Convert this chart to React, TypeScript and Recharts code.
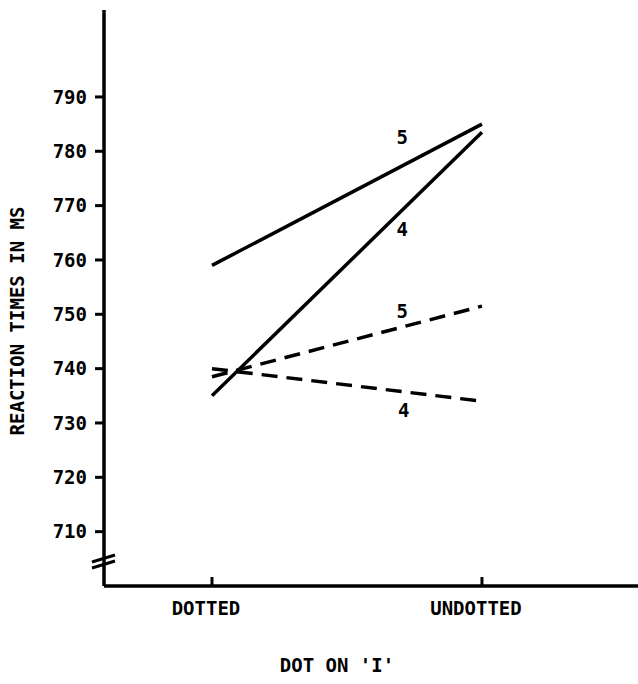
import React from 'react';
import { LineChart, Line, XAxis, YAxis, ReferenceDot } from 'recharts';

const categories = ['DOTTED', 'UNDOTTED'];
const solid5 = [759, 785];
const solid4 = [735, 783.5];
const dashed5 = [738.5, 751.5];
const dashed4 = [740, 734];
const yTicks = [710, 720, 730, 740, 750, 760, 770, 780, 790];
const lineLabels = [
  { text: '5', x: 0.705, y: 782.6 },
  { text: '4', x: 0.705, y: 765.6 },
  { text: '5', x: 0.705, y: 750.6 },
  { text: '4', x: 0.71, y: 732.4 },
];

const data = categories.map((c, i) => ({
  x: i,
  cat: c,
  s5: solid5[i],
  s4: solid4[i],
  d5: dashed5[i],
  d4: dashed4[i],
}));

const FONT = '"DejaVu Sans Mono", monospace';

const XTick = (props: any) => {
  const { x, y, payload } = props;
  return (
    <g>
      <line x1={x} x2={x} y1={y - 9} y2={y} stroke="#000" strokeWidth={3} />
      <text x={x - 6} y={y + 29} textAnchor="middle" fontFamily={FONT} fontWeight="bold" fontSize={19} fill="#000">
        {categories[payload.value]}
      </text>
    </g>
  );
};

const YLabel = (props: any) => {
  const vb = props.viewBox || { x: 44, y: 10, width: 60, height: 576 };
  const axisX = vb.x + vb.width;
  const bottom = vb.y + vb.height;
  const cx = vb.x - 27;
  const cy = vb.y + vb.height / 2 + 23;
  return (
    <g>
      <text
        x={cx}
        y={cy}
        transform={`rotate(-90 ${cx} ${cy})`}
        textAnchor="middle"
        dominantBaseline="central"
        fontFamily={FONT}
        fontWeight="bold"
        fontSize={19}
        fill="#000"
      >
        REACTION TIMES IN MS
      </text>
      <line x1={axisX - 12} y1={bottom - 24} x2={axisX + 11} y2={bottom - 31} stroke="#000" strokeWidth={3} />
      <line x1={axisX - 12} y1={bottom - 18} x2={axisX + 11} y2={bottom - 25} stroke="#000" strokeWidth={3} />
    </g>
  );
};

const XLabel = (props: any) => {
  const vb = props.viewBox || { x: 104, y: 586, width: 534, height: 30 };
  return (
    <text
      x={vb.x + 233}
      y={vb.y + 86}
      textAnchor="middle"
      fontFamily={FONT}
      fontWeight="bold"
      fontSize={19}
      fill="#000"
    >
      DOT ON 'I'
    </text>
  );
};

export default function App() {
  return (
    <div style={{ position: 'absolute', left: 0, top: 0, background: '#fff' }}>
      <LineChart
        width={638}
        height={684}
        data={data}
        margin={{ top: 10, right: 0, bottom: 68, left: 44 }}
      >
        <XAxis
          dataKey="x"
          type="number"
          domain={[-0.4, 1.578]}
          ticks={[0, 1]}
          allowDataOverflow
          height={30}
          tickSize={0}
          tickMargin={0}
          tickLine={false}
          axisLine={{ stroke: '#000', strokeWidth: 3.5 }}
          tick={<XTick />}
          label={<XLabel />}
        />
        <YAxis
          type="number"
          domain={[700, 806]}
          ticks={yTicks}
          allowDataOverflow
          width={60}
          tickSize={9}
          tickMargin={8}
          tickLine={{ stroke: '#000', strokeWidth: 3 }}
          axisLine={{ stroke: '#000', strokeWidth: 3.5 }}
          tick={{ fill: '#000', fontFamily: FONT, fontWeight: 'bold', fontSize: 19 }}
          label={<YLabel />}
        />
        <Line dataKey="s5" stroke="#000" strokeWidth={3.5} dot={false} isAnimationActive={false} />
        <Line dataKey="s4" stroke="#000" strokeWidth={3.5} dot={false} isAnimationActive={false} />
        <Line dataKey="d5" stroke="#000" strokeWidth={3.5} strokeDasharray="16 9" dot={false} isAnimationActive={false} />
        <Line dataKey="d4" stroke="#000" strokeWidth={3.5} strokeDasharray="16 9" dot={false} isAnimationActive={false} />
        {lineLabels.map((l, i) => (
          <ReferenceDot
            key={i}
            x={l.x}
            y={l.y}
            r={0}
            fill="none"
            stroke="none"
            ifOverflow="visible"
            label={{ value: l.text, position: 'center', fill: '#000', fontFamily: FONT, fontWeight: 'bold', fontSize: 19 }}
          />
        ))}
      </LineChart>
    </div>
  );
}
